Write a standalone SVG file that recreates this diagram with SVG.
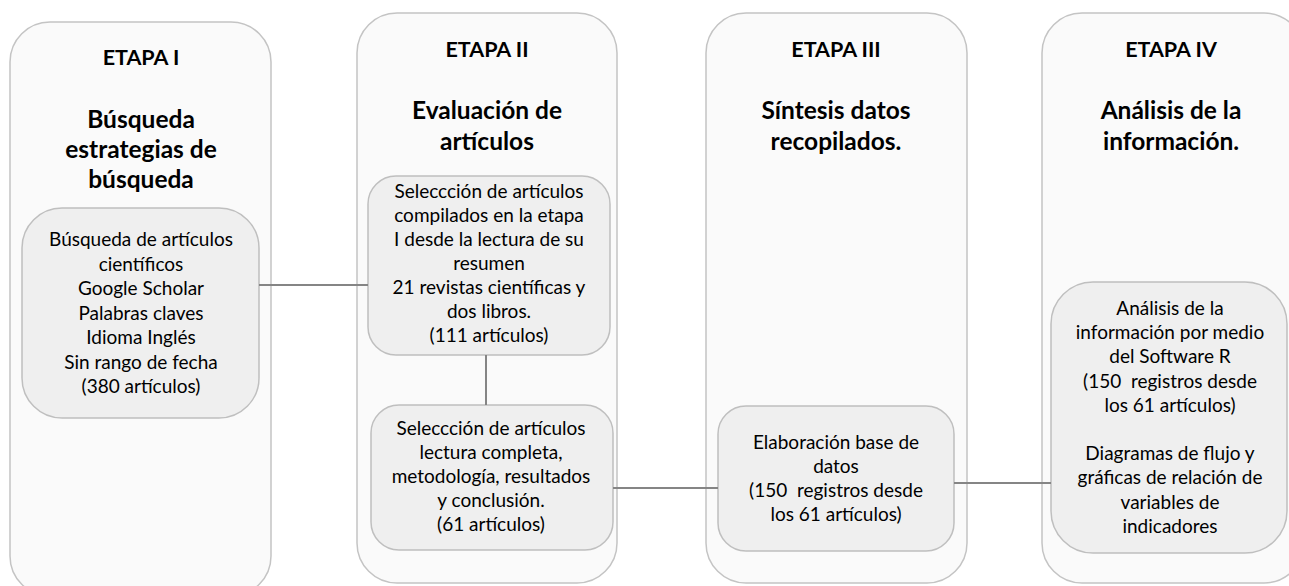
<svg xmlns="http://www.w3.org/2000/svg" width="1289" height="586" viewBox="0 0 1289 586">
<style>
.outer{fill:#fafafa;stroke:#c4c4c4;stroke-width:1.5}
.inner{fill:#efefef;stroke:#bfbfbf;stroke-width:1.5}
.conn{stroke:#858585;stroke-width:2;fill:none}
.h{font-family:Lato,"Liberation Sans",sans-serif;font-weight:bold;fill:#000;text-anchor:middle}
.h1{font-size:21.5px}
.h2{font-size:24.5px}
.b{font-family:Lato,"Liberation Sans",sans-serif;font-size:19px;fill:#000;text-anchor:middle}
</style>
<rect width="1289" height="586" fill="#fff"/>
<g id="stage1">
<rect class="outer" x="10" y="22" width="261" height="574" rx="40"/>
<text class="h h1" x="141" y="65">ETAPA I</text>
<text class="h h2" x="141" y="128">Búsqueda</text>
<text class="h h2" x="141" y="158">estrategias de</text>
<text class="h h2" x="141" y="188">búsqueda</text>
</g>
<g id="node1">
<rect class="inner" x="22" y="208" width="237" height="210" rx="40"/>
<text class="b" x="141" y="246">Búsqueda de artículos</text>
<text class="b" x="141" y="270.5">científicos</text>
<text class="b" x="141" y="295">Google Scholar</text>
<text class="b" x="141" y="319.5">Palabras claves</text>
<text class="b" x="141" y="344">Idioma Inglés</text>
<text class="b" x="141" y="368.5">Sin rango de fecha</text>
<text class="b" x="141" y="393">(380 artículos)</text>
</g>
<g id="stage2">
<rect class="outer" x="357" y="13" width="260" height="570" rx="40"/>
<text class="h h1" x="487" y="57">ETAPA II</text>
<text class="h h2" x="487" y="119">Evaluación de</text>
<text class="h h2" x="487" y="150">artículos</text>
</g>
<g id="node2">
<rect class="inner" x="368" y="176" width="242" height="179" rx="28"/>
<text class="b" x="489" y="198">Seleccción de artículos</text>
<text class="b" x="489" y="222">compilados en la etapa</text>
<text class="b" x="489" y="246">I desde la lectura de su</text>
<text class="b" x="489" y="270">resumen</text>
<text class="b" x="489" y="294">21 revistas científicas y</text>
<text class="b" x="489" y="318">dos libros.</text>
<text class="b" x="489" y="342">(111 artículos)</text>
</g>
<g id="node3">
<rect class="inner" x="371" y="405" width="242" height="145" rx="28"/>
<text class="b" x="491" y="435">Seleccción de artículos</text>
<text class="b" x="491" y="459">lectura completa,</text>
<text class="b" x="491" y="483">metodología, resultados</text>
<text class="b" x="491" y="507">y conclusión.</text>
<text class="b" x="491" y="531">(61 artículos)</text>
</g>
<g id="stage3">
<rect class="outer" x="706" y="13" width="261" height="570" rx="40"/>
<text class="h h1" x="836" y="57">ETAPA III</text>
<text class="h h2" x="836" y="119">Síntesis datos</text>
<text class="h h2" x="836" y="150">recopilados.</text>
</g>
<g id="node4">
<rect class="inner" x="718" y="406" width="236" height="145" rx="28"/>
<text class="b" x="836" y="449">Elaboración base de</text>
<text class="b" x="836" y="473">datos</text>
<text class="b" x="836" y="497" xml:space="preserve">(150  registros desde</text>
<text class="b" x="836" y="521">los 61 artículos)</text>
</g>
<g id="stage4">
<rect class="outer" x="1042" y="13" width="262" height="570" rx="40"/>
<text class="h h1" x="1171" y="57">ETAPA IV</text>
<text class="h h2" x="1171" y="119">Análisis de la</text>
<text class="h h2" x="1171" y="150">información.</text>
</g>
<g id="node5">
<rect class="inner" x="1051" y="282" width="236" height="271" rx="42"/>
<text class="b" x="1170" y="315">Análisis de la</text>
<text class="b" x="1170" y="339.2">información por medio</text>
<text class="b" x="1170" y="363.4">del Software R</text>
<text class="b" x="1170" y="387.6" xml:space="preserve">(150  registros desde</text>
<text class="b" x="1170" y="411.8">los 61 artículos)</text>
<text class="b" x="1170" y="460.2">Diagramas de flujo y</text>
<text class="b" x="1170" y="484.4">gráficas de relación de</text>
<text class="b" x="1170" y="508.6">variables de</text>
<text class="b" x="1170" y="532.8">indicadores</text>
</g>
<g id="connectors">
<line class="conn" x1="259" y1="285" x2="368" y2="285"/>
<line class="conn" x1="486" y1="355" x2="486" y2="405"/>
<line class="conn" x1="613" y1="488" x2="718" y2="488"/>
<line class="conn" x1="954" y1="483" x2="1051" y2="483"/>
</g>
</svg>
